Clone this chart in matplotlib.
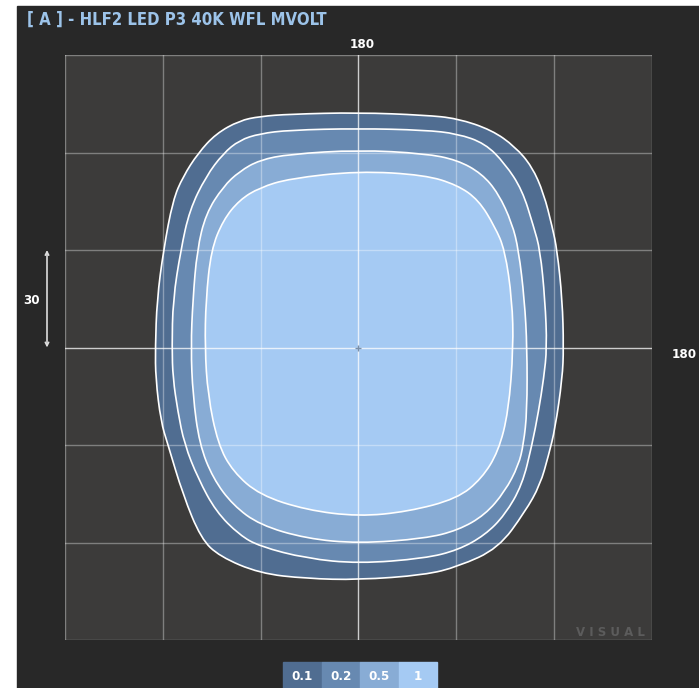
import matplotlib.pyplot as plt
import matplotlib.transforms as mtransforms
from matplotlib.path import Path
from matplotlib.patches import PathPatch, Rectangle
import numpy as np

# isofootcandle levels and their fill colours
levels = ["0.1", "0.2", "0.5", "1"]
level_colors = ["#506d91", "#6789b1", "#88acd5", "#a5caf3"]

# contour outlines in degrees (counter-clockwise, starting at the right)
c01_x = [62.9, 62.5, 60.9, 59.4, 56.8, 53.2, 48.0, 40.9, 30.3, 20.3, 0.0,
         -21.1, -30.3, -36.5, -43.7, -49.2, -53.8, -56.9, -59.8, -61.8, -62.3,
         -62.2, -60.6, -58.5, -53.8, -48.3, -42.6, -30.3, -16.0, 0.0,
         20.3, 30.6, 42.9, 51.1, 55.7, 58.3, 60.3, 62.5]
c01_y = [0.0, 14.6, 30.0, 37.2, 47.4, 55.7, 61.8, 66.9, 70.5, 71.5, 72.3,
         71.8, 71.1, 69.8, 65.8, 59.8, 52.6, 45.4, 30.0, 14.6, 0.0,
         -9.5, -22.8, -29.7, -45.4, -58.8, -64.3, -69.5, -71.1, -71.5,
         -70.0, -67.4, -61.8, -50.5, -42.3, -33.1, -24.9, -9.5]

c02_x = [57.8, 57.2, 55.7, 53.7, 50.2, 44.9, 38.8, 30.3, 20.3, 0.0,
         -21.1, -30.3, -36.5, -41.5, -46.8, -51.8, -54.5, -56.9, -57.2,
         -56.9, -55.4, -53.4, -49.2, -43.7, -36.5, -30.3, -16.0, 0.0,
         20.3, 30.6, 38.8, 44.9, 50.2, 53.2, 55.2, 56.8]
c02_y = [0.0, 14.6, 30.0, 37.2, 48.5, 56.6, 62.8, 65.8, 66.9, 67.4,
         66.9, 65.8, 63.8, 59.7, 52.6, 42.3, 30.0, 14.6, 0.0,
         -9.4, -19.7, -29.7, -40.3, -50.5, -57.7, -61.2, -64.9, -66.5,
         -64.9, -62.3, -57.7, -51.5, -42.3, -30.0, -19.7, -9.5]

c05_x = [51.7, 50.9, 49.1, 47.1, 42.9, 37.8, 30.3, 20.3, 0.0,
         -21.1, -30.3, -36.5, -41.5, -46.8, -49.5, -50.8, -51.4,
         -50.8, -48.8, -44.6, -38.5, -30.3, -16.0, 0.0,
         20.3, 30.6, 38.8, 44.9, 49.1, 50.6, 51.7]
c05_y = [0.0, 14.6, 30.0, 38.2, 47.4, 53.5, 57.7, 59.7, 60.8,
         59.5, 57.7, 54.2, 49.5, 41.2, 30.0, 14.6, 0.0,
         -14.6, -29.7, -40.3, -48.5, -54.6, -58.8, -60.3,
         -58.8, -56.2, -51.5, -44.3, -36.2, -29.7, -19.7]

c1_x = [47.5, 47.1, 44.9, 41.8, 36.8, 30.3, 20.3, 0.0,
        -21.1, -30.3, -36.5, -41.5, -45.2, -46.8, -47.1,
        -46.2, -43.1, -38.5, -30.3, -16.0, 0.0,
        15.2, 30.3, 37.8, 42.9, 46.0]
c1_y = [0.0, 14.6, 30.0, 37.2, 45.4, 50.0, 53.1, 54.3,
        52.0, 49.2, 45.4, 39.2, 30.0, 14.6, 0.0,
        -14.6, -29.7, -38.2, -45.4, -50.0, -52.0,
        -50.5, -46.5, -40.3, -32.0, -19.7]

grid_ticks = [-90, -60, -30, 0, 30, 60, 90]
title = "[ A ] - HLF2 LED P3 40K WFL MVOLT"


def smooth_closed(xs, ys):
    # quadratic bezier through midpoints, points act as control points
    pts = np.column_stack([xs, ys])
    mids = (pts + np.roll(pts, -1, axis=0)) / 2
    verts = [mids[-1]]
    codes = [Path.MOVETO]
    for i in range(len(pts)):
        verts += [pts[i], mids[i]]
        codes += [Path.CURVE3, Path.CURVE3]
    verts.append(mids[-1])
    codes.append(Path.CLOSEPOLY)
    return Path(verts, codes)


W, H = 699, 688
fig = plt.figure(figsize=(W / 100, H / 100), dpi=100, facecolor="white")
txt = dict(color="white", fontweight="bold", fontstretch="condensed",
           family="DejaVu Sans")

# dark panel behind everything
fig.patches.append(Rectangle((17 / W, 0), 1 - 17 / W, 1 - 6 / H,
                             transform=fig.transFigure, color="#282828", zorder=-5))

ax = fig.add_axes([65 / W, (H - 640) / H, 587 / W, 585 / H])
ax.set_zorder(1)
ax.set_facecolor("#3c3b3a")
ax.set_xlim(-90, 90)
ax.set_ylim(-90, 90)
for s in ax.spines.values():
    s.set_visible(False)
ax.set_xticks([])
ax.set_yticks([])

outlines = [(c01_x, c01_y), (c02_x, c02_y), (c05_x, c05_y), (c1_x, c1_y)]
for (xs, ys), col in zip(outlines, level_colors):
    ax.add_patch(PathPatch(smooth_closed(xs, ys), facecolor=col,
                           edgecolor="white", lw=1.2, zorder=2))

# grid drawn over the fills
for t in grid_ticks:
    a = 0.75 if t == 0 else 0.35
    ax.axvline(t, color="white", lw=1, alpha=a, zorder=3)
    ax.axhline(t, color="white", lw=1, alpha=a, zorder=3)
ax.plot(0, 0, marker="+", color="#7a8fa8", ms=5, zorder=4)

# scale bar on the left
trans = mtransforms.blended_transform_factory(fig.transFigure, ax.transData)
ax.annotate("", xy=(47 / W, 30), xytext=(47 / W, 0), xycoords=trans, textcoords=trans,
            arrowprops=dict(arrowstyle="<->", color="#dddddd", lw=1.2,
                            shrinkA=0, shrinkB=0, mutation_scale=6),
            annotation_clip=False)
fig.text(32 / W, 1 - 301 / H, "30", fontsize=9.5, ha="center", va="center", **txt)

fig.text(362 / W, 1 - 44 / H, "180", fontsize=9.5, ha="center", va="center", **txt)
fig.text(684 / W, 1 - 354 / H, "180", fontsize=9.5, ha="center", va="center", **txt)

fig.text(27 / W, 1 - 20 / H, title, color="#9cc3e9", fontsize=12, fontweight="bold",
         fontstretch="condensed", family="DejaVu Sans", ha="left", va="center")

fig.text(610 / W, 1 - 632 / H, "V I S U A L", color="#5c5c5c", fontsize=8.5,
         fontweight="bold", ha="center", va="center")

# legend strip at the bottom
cell_w = 38.5
for i, (lab, col) in enumerate(zip(levels, level_colors)):
    x0 = 283 + i * cell_w
    fig.patches.append(Rectangle((x0 / W, 0), cell_w / W, 26 / H,
                                 transform=fig.transFigure, color=col, zorder=1))
    fig.text((x0 + cell_w / 2) / W, 1 - 676 / H, lab, fontsize=9.5,
             ha="center", va="center", zorder=2, **txt)

fig.savefig("out.png", dpi=100, facecolor=fig.get_facecolor())
